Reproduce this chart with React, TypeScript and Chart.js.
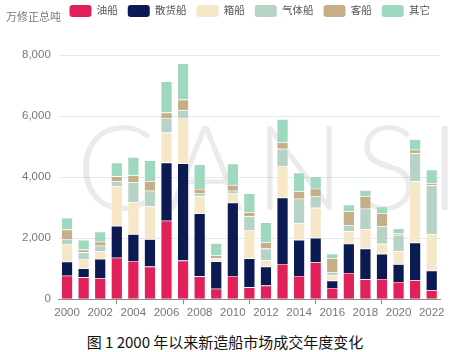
import React, { useEffect, useRef } from "react";
import { Chart, registerables } from "chart.js";

Chart.register(...registerables);

const years = ["2000","2001","2002","2003","2004","2005","2006","2007","2008","2009","2010","2011","2012","2013","2014","2015","2016","2017","2018","2019","2020","2021","2022"];
const oil =       [770, 715, 680, 1360, 1255, 1070, 2570, 1265, 750, 345, 760, 390, 445, 1155, 760, 1210, 370, 860, 650, 665, 565, 620, 300];
const bulk =      [460, 295, 640, 1045, 875, 895, 1905, 3185, 2060, 890, 2400, 950, 625, 2170, 1185, 800, 240, 960, 1010, 820, 580, 1235, 635];
const container = [580, 310, 250, 1300, 1050, 1085, 985, 1490, 560, 65, 315, 910, 205, 1040, 545, 985, 175, 405, 635, 330, 425, 2005, 1195];
const gas =       [165, 215, 185, 165, 655, 505, 460, 250, 110, 45, 80, 470, 385, 560, 800, 370, 90, 190, 670, 570, 540, 920, 1600];
const passenger = [305, 90, 130, 155, 220, 315, 195, 350, 130, 90, 185, 130, 205, 210, 250, 255, 470, 460, 415, 435, 55, 120, 75];
const other =     [385, 320, 330, 450, 600, 680, 1020, 1185, 810, 400, 700, 615, 650, 765, 605, 405, 145, 220, 195, 210, 155, 340, 440];

const seriesNames = ["油船", "散货船", "箱船", "气体船", "客船", "其它"];
const seriesColors = ["#E1215A", "#0B1A52", "#F5E7C8", "#B6D3C6", "#C6AE88", "#9ED8BF"];
const yTitle = "万修正总吨";
const caption = "图 1 2000 年以来新造船市场成交年度变化";
const watermark = "CANSI";

const FONT = "'Liberation Sans', Arial, 'Noto Sans CJK SC', sans-serif";

export default function App() {
  const ref = useRef<HTMLCanvasElement | null>(null);
  useEffect(() => {
    if (!ref.current) return;
    const values = [oil, bulk, container, gas, passenger, other];
    const extras = {
      id: "extras",
      beforeInit(chart: any) {
        const lg = chart.legend;
        if (lg) {
          const orig = lg.fit.bind(lg);
          lg.fit = function () {
            orig();
            this.height += 28;
          };
        }
      },
      beforeDatasetsDraw(chart: any) {
        const { ctx } = chart;
        ctx.save();
        ctx.fillStyle = "rgba(0,0,0,0.08)";
        ctx.font = "300 118px Lato, 'Liberation Sans', sans-serif";
        try { (ctx as any).letterSpacing = "11px"; } catch (e) {}
        ctx.textAlign = "left";
        ctx.textBaseline = "alphabetic";
        ctx.fillText(watermark, 76, 215);
        ctx.restore();
      },
      afterDraw(chart: any) {
        const { ctx } = chart;
        ctx.save();
        ctx.fillStyle = "#777";
        ctx.font = "11px " + FONT;
        ctx.textAlign = "left";
        ctx.textBaseline = "middle";
        ctx.fillText(yTitle, 6, 23);
        ctx.restore();
      },
    };
    const chart = new Chart(ref.current, {
      type: "bar",
      data: {
        labels: years,
        datasets: values.map((v, i) => ({
          label: seriesNames[i],
          data: v,
          backgroundColor: seriesColors[i],
          borderColor: "rgba(255,255,255,0.55)",
          borderWidth: 0.6,
          barPercentage: 0.69,
          categoryPercentage: 1,
        })),
      },
      options: {
        animation: false,
        responsive: false,
        maintainAspectRatio: false,
        layout: { padding: { left: 14, right: 10, top: 0, bottom: 0 } },
        plugins: {
          legend: {
            position: "top",
            align: "end",
            labels: {
              boxWidth: 22,
              boxHeight: 12,
              padding: 10,
              color: "#555",
              font: { size: 10.5, family: FONT },
              useBorderRadius: true,
              borderRadius: 3,
              generateLabels: (chart: any) =>
                chart.data.datasets.map((d: any, i: number) => ({
                  text: d.label,
                  fillStyle: seriesColors[i],
                  strokeStyle: seriesColors[i],
                  lineWidth: 0,
                  borderRadius: 3,
                  hidden: false,
                  datasetIndex: i,
                  fontColor: "#555",
                })),
            },
          },
          tooltip: { enabled: false },
        },
        scales: {
          x: {
            stacked: true,
            offset: true,
            grid: {
              display: true,
              offset: true,
              drawOnChartArea: false,
              drawTicks: true,
              tickLength: 5,
              color: "#8a8a8a",
            },
            border: { display: true, color: "#8a8a8a", width: 1 },
            ticks: {
              autoSkip: true,
              maxTicksLimit: 12,
              maxRotation: 0,
              color: "#777",
              padding: 2,
              font: { size: 11.5, family: FONT },
            },
          },
          y: {
            stacked: true,
            min: 0,
            max: 8000,
            ticks: {
              stepSize: 2000,
              color: "#777",
              padding: 8,
              font: { size: 11.5, family: FONT },
              callback: (v: any) => Number(v).toLocaleString("en-US"),
            },
            grid: { color: "#E4E9F1", drawTicks: false, lineWidth: 1 },
            border: { display: false },
          },
        },
      },
      plugins: [extras],
    });
    return () => chart.destroy();
  }, []);
  return (
    <div style={{ position: "fixed", left: 0, top: 0, width: 450, height: 352, background: "#fff" }}>
      <canvas ref={ref} width={450} height={327} style={{ position: "absolute", left: 0, top: -5, width: 450, height: 327 }} />
      <div
        style={{
          position: "absolute",
          left: 0,
          top: 332,
          width: 450,
          height: 20,
          lineHeight: "20px",
          textAlign: "center",
          fontSize: 15,
          color: "#111",
          fontFamily: "'Noto Sans CJK SC', 'Liberation Sans', sans-serif",
        }}
      >
        {caption}
      </div>
    </div>
  );
}
